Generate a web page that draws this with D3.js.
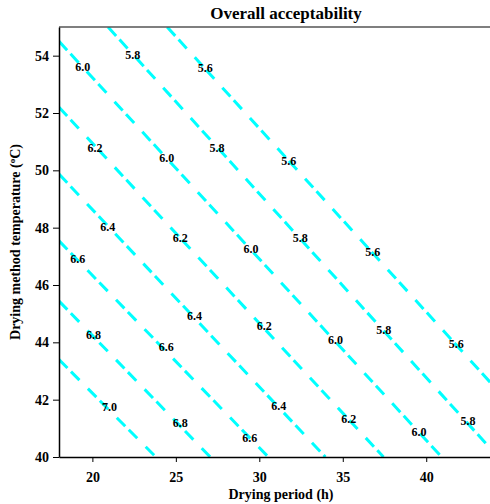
<!DOCTYPE html>
<html>
<head>
<meta charset="utf-8">
<script src="https://cdn.jsdelivr.net/npm/d3@7"></script>
<style>
body { margin: 0; background: #fff; }
text { font-family: "Liberation Serif", "Times New Roman", serif; font-weight: bold; fill: #000; }
</style>
</head>
<body>
<div id="chart"></div>
<script>
var width = 490,
	height = 504,
	margin = {top: 27, right: -3, bottom: 47, left: 59};

// contour levels and the (straight) path of each one, in data units
var levels = ["7.0", "6.8", "6.6", "6.4", "6.2", "6.0", "5.8", "5.6"];
var contourPaths = [
	[[18, 43.40], [23.80, 40]],
	[[18, 45.44], [27.06, 40]],
	[[18, 47.54], [30.54, 40]],
	[[18, 49.87], [33.96, 40]],
	[[18, 52.20], [37.44, 40]],
	[[18, 54.50], [40.92, 40]],
	[[20.94, 55], [44, 40.2]],
	[[24.48, 55], [44, 42.5]]
];

// inline labels along the contours
var labelText = ["5.6", "5.6", "5.6", "5.6",
	"5.8", "5.8", "5.8", "5.8", "5.8",
	"6.0", "6.0", "6.0", "6.0", "6.0",
	"6.2", "6.2", "6.2", "6.2",
	"6.4", "6.4", "6.4",
	"6.6", "6.6", "6.6",
	"6.8", "6.8",
	"7.0"];
var labelX = [26.76, 31.76, 36.80, 41.80,
	22.42, 27.46, 32.46, 37.46, 42.50,
	19.42, 24.46, 29.50, 34.56, 39.56,
	20.16, 25.26, 30.30, 35.36,
	20.92, 26.12, 31.16,
	19.12, 24.42, 29.43,
	20.06, 25.26,
	21.02];
var labelY = [53.57, 50.34, 47.17, 43.96,
	54.03, 50.80, 47.63, 44.45, 41.28,
	53.60, 50.42, 47.28, 44.10, 40.87,
	50.80, 47.66, 44.56, 41.33,
	48.04, 44.94, 41.79,
	46.90, 43.85, 40.66,
	44.28, 41.19,
	41.75];

var xTicks = [20, 25, 30, 35, 40];
var yTicks = [40, 42, 44, 46, 48, 50, 52, 54];

var svg = d3.select("#chart").append("svg")
	.attr("width", width)
	.attr("height", height);

var x = d3.scaleLinear().domain([18, 44]).range([margin.left, width - margin.right]);
var y = d3.scaleLinear().domain([40, 55]).range([height - margin.bottom, margin.top]);

svg.append("clipPath")
	.attr("id", "plotclip")
	.append("rect")
	.attr("x", x(18))
	.attr("y", y(55))
	.attr("width", x(44) - x(18))
	.attr("height", y(40) - y(55));

var line = d3.line()
	.x(function(d) { return x(d[0]); })
	.y(function(d) { return y(d[1]); });

svg.append("g")
	.attr("clip-path", "url(#plotclip)")
	.selectAll("path")
	.data(contourPaths)
	.enter()
	.append("path")
	.attr("d", line)
	.attr("fill", "none")
	.attr("stroke", "#00ffff")
	.attr("stroke-width", 3)
	.attr("stroke-dasharray", "12,5,12,12");

svg.append("g")
	.selectAll("text")
	.data(labelText)
	.enter()
	.append("text")
	.attr("x", function(d, i) { return x(labelX[i]); })
	.attr("y", function(d, i) { return y(labelY[i]); })
	.attr("dy", "0.35em")
	.attr("text-anchor", "middle")
	.style("font-size", "12px")
	.text(function(d) { return d; });

// top frame line
svg.append("line")
	.attr("x1", x(18))
	.attr("x2", width)
	.attr("y1", y(55))
	.attr("y2", y(55))
	.attr("stroke", "#555")
	.attr("stroke-width", 1.5);

var xAxis = svg.append("g")
	.attr("transform", "translate(0," + y(40) + ")")
	.call(d3.axisBottom(x).tickValues(xTicks).tickSize(5).tickSizeOuter(0).tickPadding(10));

var yAxis = svg.append("g")
	.attr("transform", "translate(" + x(18) + ",0)")
	.call(d3.axisLeft(y).tickValues(yTicks).tickSize(6).tickSizeOuter(0).tickPadding(4));

[xAxis, yAxis].forEach(function(a) {
	a.select(".domain").attr("stroke", "#000").attr("stroke-width", 1.5);
	a.selectAll(".tick line").attr("stroke", "#000").attr("stroke-width", 1);
	a.selectAll(".tick text")
		.style("font-family", "'Liberation Serif', 'Times New Roman', serif")
		.style("font-weight", "bold")
		.style("font-size", "14px")
		.attr("fill", "#000");
});

svg.append("text")
	.attr("x", 286)
	.attr("y", 19)
	.attr("text-anchor", "middle")
	.style("font-size", "17px")
	.text("Overall acceptability");

svg.append("text")
	.attr("x", 281)
	.attr("y", 499)
	.attr("text-anchor", "middle")
	.style("font-size", "14px")
	.text("Drying period (h)");

var ylab = svg.append("text")
	.attr("transform", "translate(20," + ((y(40) + y(55)) / 2) + ") rotate(-90)")
	.attr("text-anchor", "middle")
	.style("font-size", "14px");
ylab.append("tspan").text("Drying method temperature (");
ylab.append("tspan").attr("baseline-shift", "super").style("font-size", "9px").text("o");
ylab.append("tspan").text("C)");
</script>
</body>
</html>
